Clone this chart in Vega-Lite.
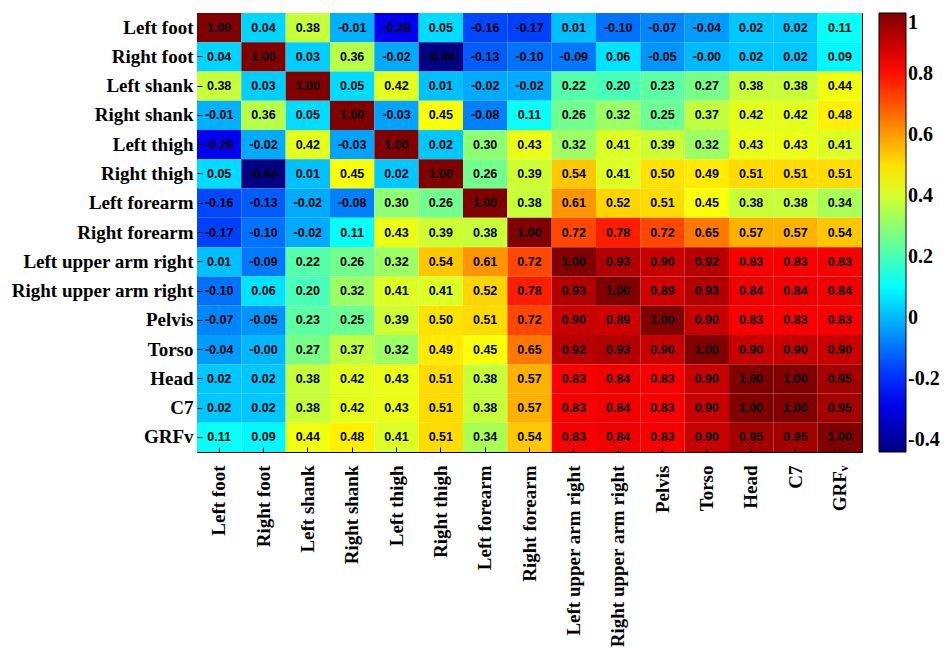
{
  "$schema": "https://vega.github.io/schema/vega-lite/v6.json",
  "width": 665,
  "height": 439,
  "autosize": {"type": "none"},
  "padding": {"left": 197, "top": 13, "right": 83, "bottom": 198},
  "background": "white",
  "config": {
    "view": {"stroke": "black", "strokeWidth": 1},
    "locale": {"number": {"decimal": ".", "thousands": ",", "grouping": [3], "currency": ["$", ""], "minus": "-"}},
    "axis": {"domain": false, "ticks": true, "tickColor": "black", "tickSize": -5, "tickWidth": 1, "labelColor": "black", "labelFont": "Liberation Serif", "labelFontWeight": "bold", "labelFontSize": 19, "labelLimit": 0, "title": null, "grid": false},
    "legend": {"labelFont": "Liberation Serif", "labelFontSize": 20, "labelFontWeight": "bold", "labelColor": "black", "labelOffset": 4, "labelOverlap": false, "gradientLength": 439, "gradientThickness": 27, "gradientStrokeColor": "black", "gradientStrokeWidth": 1}
  },
  "data": {"values": [
    {"r":"Left foot","c":"Left foot","v":1.00},{"r":"Left foot","c":"Right foot","v":0.04},{"r":"Left foot","c":"Left shank","v":0.38},{"r":"Left foot","c":"Right shank","v":-0.01},{"r":"Left foot","c":"Left thigh","v":-0.28},{"r":"Left foot","c":"Right thigh","v":0.05},{"r":"Left foot","c":"Left forearm","v":-0.16},{"r":"Left foot","c":"Right forearm","v":-0.17},{"r":"Left foot","c":"Left upper arm right","v":0.01},{"r":"Left foot","c":"Right upper arm right","v":-0.10},{"r":"Left foot","c":"Pelvis","v":-0.07},{"r":"Left foot","c":"Torso","v":-0.04},{"r":"Left foot","c":"Head","v":0.02},{"r":"Left foot","c":"C7","v":0.02},{"r":"Left foot","c":"GRFv","v":0.11},
    {"r":"Right foot","c":"Left foot","v":0.04},{"r":"Right foot","c":"Right foot","v":1.00},{"r":"Right foot","c":"Left shank","v":0.03},{"r":"Right foot","c":"Right shank","v":0.36},{"r":"Right foot","c":"Left thigh","v":-0.02},{"r":"Right foot","c":"Right thigh","v":-0.44},{"r":"Right foot","c":"Left forearm","v":-0.13},{"r":"Right foot","c":"Right forearm","v":-0.10},{"r":"Right foot","c":"Left upper arm right","v":-0.09},{"r":"Right foot","c":"Right upper arm right","v":0.06},{"r":"Right foot","c":"Pelvis","v":-0.05},{"r":"Right foot","c":"Torso","v":-0.00},{"r":"Right foot","c":"Head","v":0.02},{"r":"Right foot","c":"C7","v":0.02},{"r":"Right foot","c":"GRFv","v":0.09},
    {"r":"Left shank","c":"Left foot","v":0.38},{"r":"Left shank","c":"Right foot","v":0.03},{"r":"Left shank","c":"Left shank","v":1.00},{"r":"Left shank","c":"Right shank","v":0.05},{"r":"Left shank","c":"Left thigh","v":0.42},{"r":"Left shank","c":"Right thigh","v":0.01},{"r":"Left shank","c":"Left forearm","v":-0.02},{"r":"Left shank","c":"Right forearm","v":-0.02},{"r":"Left shank","c":"Left upper arm right","v":0.22},{"r":"Left shank","c":"Right upper arm right","v":0.20},{"r":"Left shank","c":"Pelvis","v":0.23},{"r":"Left shank","c":"Torso","v":0.27},{"r":"Left shank","c":"Head","v":0.38},{"r":"Left shank","c":"C7","v":0.38},{"r":"Left shank","c":"GRFv","v":0.44},
    {"r":"Right shank","c":"Left foot","v":-0.01},{"r":"Right shank","c":"Right foot","v":0.36},{"r":"Right shank","c":"Left shank","v":0.05},{"r":"Right shank","c":"Right shank","v":1.00},{"r":"Right shank","c":"Left thigh","v":-0.03},{"r":"Right shank","c":"Right thigh","v":0.45},{"r":"Right shank","c":"Left forearm","v":-0.08},{"r":"Right shank","c":"Right forearm","v":0.11},{"r":"Right shank","c":"Left upper arm right","v":0.26},{"r":"Right shank","c":"Right upper arm right","v":0.32},{"r":"Right shank","c":"Pelvis","v":0.25},{"r":"Right shank","c":"Torso","v":0.37},{"r":"Right shank","c":"Head","v":0.42},{"r":"Right shank","c":"C7","v":0.42},{"r":"Right shank","c":"GRFv","v":0.48},
    {"r":"Left thigh","c":"Left foot","v":-0.28},{"r":"Left thigh","c":"Right foot","v":-0.02},{"r":"Left thigh","c":"Left shank","v":0.42},{"r":"Left thigh","c":"Right shank","v":-0.03},{"r":"Left thigh","c":"Left thigh","v":1.00},{"r":"Left thigh","c":"Right thigh","v":0.02},{"r":"Left thigh","c":"Left forearm","v":0.30},{"r":"Left thigh","c":"Right forearm","v":0.43},{"r":"Left thigh","c":"Left upper arm right","v":0.32},{"r":"Left thigh","c":"Right upper arm right","v":0.41},{"r":"Left thigh","c":"Pelvis","v":0.39},{"r":"Left thigh","c":"Torso","v":0.32},{"r":"Left thigh","c":"Head","v":0.43},{"r":"Left thigh","c":"C7","v":0.43},{"r":"Left thigh","c":"GRFv","v":0.41},
    {"r":"Right thigh","c":"Left foot","v":0.05},{"r":"Right thigh","c":"Right foot","v":-0.44},{"r":"Right thigh","c":"Left shank","v":0.01},{"r":"Right thigh","c":"Right shank","v":0.45},{"r":"Right thigh","c":"Left thigh","v":0.02},{"r":"Right thigh","c":"Right thigh","v":1.00},{"r":"Right thigh","c":"Left forearm","v":0.26},{"r":"Right thigh","c":"Right forearm","v":0.39},{"r":"Right thigh","c":"Left upper arm right","v":0.54},{"r":"Right thigh","c":"Right upper arm right","v":0.41},{"r":"Right thigh","c":"Pelvis","v":0.50},{"r":"Right thigh","c":"Torso","v":0.49},{"r":"Right thigh","c":"Head","v":0.51},{"r":"Right thigh","c":"C7","v":0.51},{"r":"Right thigh","c":"GRFv","v":0.51},
    {"r":"Left forearm","c":"Left foot","v":-0.16},{"r":"Left forearm","c":"Right foot","v":-0.13},{"r":"Left forearm","c":"Left shank","v":-0.02},{"r":"Left forearm","c":"Right shank","v":-0.08},{"r":"Left forearm","c":"Left thigh","v":0.30},{"r":"Left forearm","c":"Right thigh","v":0.26},{"r":"Left forearm","c":"Left forearm","v":1.00},{"r":"Left forearm","c":"Right forearm","v":0.38},{"r":"Left forearm","c":"Left upper arm right","v":0.61},{"r":"Left forearm","c":"Right upper arm right","v":0.52},{"r":"Left forearm","c":"Pelvis","v":0.51},{"r":"Left forearm","c":"Torso","v":0.45},{"r":"Left forearm","c":"Head","v":0.38},{"r":"Left forearm","c":"C7","v":0.38},{"r":"Left forearm","c":"GRFv","v":0.34},
    {"r":"Right forearm","c":"Left foot","v":-0.17},{"r":"Right forearm","c":"Right foot","v":-0.10},{"r":"Right forearm","c":"Left shank","v":-0.02},{"r":"Right forearm","c":"Right shank","v":0.11},{"r":"Right forearm","c":"Left thigh","v":0.43},{"r":"Right forearm","c":"Right thigh","v":0.39},{"r":"Right forearm","c":"Left forearm","v":0.38},{"r":"Right forearm","c":"Right forearm","v":1.00},{"r":"Right forearm","c":"Left upper arm right","v":0.72},{"r":"Right forearm","c":"Right upper arm right","v":0.78},{"r":"Right forearm","c":"Pelvis","v":0.72},{"r":"Right forearm","c":"Torso","v":0.65},{"r":"Right forearm","c":"Head","v":0.57},{"r":"Right forearm","c":"C7","v":0.57},{"r":"Right forearm","c":"GRFv","v":0.54},
    {"r":"Left upper arm right","c":"Left foot","v":0.01},{"r":"Left upper arm right","c":"Right foot","v":-0.09},{"r":"Left upper arm right","c":"Left shank","v":0.22},{"r":"Left upper arm right","c":"Right shank","v":0.26},{"r":"Left upper arm right","c":"Left thigh","v":0.32},{"r":"Left upper arm right","c":"Right thigh","v":0.54},{"r":"Left upper arm right","c":"Left forearm","v":0.61},{"r":"Left upper arm right","c":"Right forearm","v":0.72},{"r":"Left upper arm right","c":"Left upper arm right","v":1.00},{"r":"Left upper arm right","c":"Right upper arm right","v":0.93},{"r":"Left upper arm right","c":"Pelvis","v":0.90},{"r":"Left upper arm right","c":"Torso","v":0.92},{"r":"Left upper arm right","c":"Head","v":0.83},{"r":"Left upper arm right","c":"C7","v":0.83},{"r":"Left upper arm right","c":"GRFv","v":0.83},
    {"r":"Right upper arm right","c":"Left foot","v":-0.10},{"r":"Right upper arm right","c":"Right foot","v":0.06},{"r":"Right upper arm right","c":"Left shank","v":0.20},{"r":"Right upper arm right","c":"Right shank","v":0.32},{"r":"Right upper arm right","c":"Left thigh","v":0.41},{"r":"Right upper arm right","c":"Right thigh","v":0.41},{"r":"Right upper arm right","c":"Left forearm","v":0.52},{"r":"Right upper arm right","c":"Right forearm","v":0.78},{"r":"Right upper arm right","c":"Left upper arm right","v":0.93},{"r":"Right upper arm right","c":"Right upper arm right","v":1.00},{"r":"Right upper arm right","c":"Pelvis","v":0.89},{"r":"Right upper arm right","c":"Torso","v":0.93},{"r":"Right upper arm right","c":"Head","v":0.84},{"r":"Right upper arm right","c":"C7","v":0.84},{"r":"Right upper arm right","c":"GRFv","v":0.84},
    {"r":"Pelvis","c":"Left foot","v":-0.07},{"r":"Pelvis","c":"Right foot","v":-0.05},{"r":"Pelvis","c":"Left shank","v":0.23},{"r":"Pelvis","c":"Right shank","v":0.25},{"r":"Pelvis","c":"Left thigh","v":0.39},{"r":"Pelvis","c":"Right thigh","v":0.50},{"r":"Pelvis","c":"Left forearm","v":0.51},{"r":"Pelvis","c":"Right forearm","v":0.72},{"r":"Pelvis","c":"Left upper arm right","v":0.90},{"r":"Pelvis","c":"Right upper arm right","v":0.89},{"r":"Pelvis","c":"Pelvis","v":1.00},{"r":"Pelvis","c":"Torso","v":0.90},{"r":"Pelvis","c":"Head","v":0.83},{"r":"Pelvis","c":"C7","v":0.83},{"r":"Pelvis","c":"GRFv","v":0.83},
    {"r":"Torso","c":"Left foot","v":-0.04},{"r":"Torso","c":"Right foot","v":-0.00},{"r":"Torso","c":"Left shank","v":0.27},{"r":"Torso","c":"Right shank","v":0.37},{"r":"Torso","c":"Left thigh","v":0.32},{"r":"Torso","c":"Right thigh","v":0.49},{"r":"Torso","c":"Left forearm","v":0.45},{"r":"Torso","c":"Right forearm","v":0.65},{"r":"Torso","c":"Left upper arm right","v":0.92},{"r":"Torso","c":"Right upper arm right","v":0.93},{"r":"Torso","c":"Pelvis","v":0.90},{"r":"Torso","c":"Torso","v":1.00},{"r":"Torso","c":"Head","v":0.90},{"r":"Torso","c":"C7","v":0.90},{"r":"Torso","c":"GRFv","v":0.90},
    {"r":"Head","c":"Left foot","v":0.02},{"r":"Head","c":"Right foot","v":0.02},{"r":"Head","c":"Left shank","v":0.38},{"r":"Head","c":"Right shank","v":0.42},{"r":"Head","c":"Left thigh","v":0.43},{"r":"Head","c":"Right thigh","v":0.51},{"r":"Head","c":"Left forearm","v":0.38},{"r":"Head","c":"Right forearm","v":0.57},{"r":"Head","c":"Left upper arm right","v":0.83},{"r":"Head","c":"Right upper arm right","v":0.84},{"r":"Head","c":"Pelvis","v":0.83},{"r":"Head","c":"Torso","v":0.90},{"r":"Head","c":"Head","v":1.00},{"r":"Head","c":"C7","v":1.00},{"r":"Head","c":"GRFv","v":0.95},
    {"r":"C7","c":"Left foot","v":0.02},{"r":"C7","c":"Right foot","v":0.02},{"r":"C7","c":"Left shank","v":0.38},{"r":"C7","c":"Right shank","v":0.42},{"r":"C7","c":"Left thigh","v":0.43},{"r":"C7","c":"Right thigh","v":0.51},{"r":"C7","c":"Left forearm","v":0.38},{"r":"C7","c":"Right forearm","v":0.57},{"r":"C7","c":"Left upper arm right","v":0.83},{"r":"C7","c":"Right upper arm right","v":0.84},{"r":"C7","c":"Pelvis","v":0.83},{"r":"C7","c":"Torso","v":0.90},{"r":"C7","c":"Head","v":1.00},{"r":"C7","c":"C7","v":1.00},{"r":"C7","c":"GRFv","v":0.95},
    {"r":"GRFv","c":"Left foot","v":0.11},{"r":"GRFv","c":"Right foot","v":0.09},{"r":"GRFv","c":"Left shank","v":0.44},{"r":"GRFv","c":"Right shank","v":0.48},{"r":"GRFv","c":"Left thigh","v":0.41},{"r":"GRFv","c":"Right thigh","v":0.51},{"r":"GRFv","c":"Left forearm","v":0.34},{"r":"GRFv","c":"Right forearm","v":0.54},{"r":"GRFv","c":"Left upper arm right","v":0.83},{"r":"GRFv","c":"Right upper arm right","v":0.84},{"r":"GRFv","c":"Pelvis","v":0.83},{"r":"GRFv","c":"Torso","v":0.90},{"r":"GRFv","c":"Head","v":0.95},{"r":"GRFv","c":"C7","v":0.95},{"r":"GRFv","c":"GRFv","v":1.00}
  ]},
  "layer": [
    {
      "mark": {"type": "rect"},
      "encoding": {
        "x": {"field": "c", "type": "nominal", "sort": ["Left foot","Right foot","Left shank","Right shank","Left thigh","Right thigh","Left forearm","Right forearm","Left upper arm right","Right upper arm right","Pelvis","Torso","Head","C7","GRFv"], "scale": {"paddingInner": 0, "paddingOuter": 0}, "axis": {"orient": "bottom", "labelAngle": -90, "labelPadding": 18, "labelExpr": "datum.value === 'GRFv' ? 'GRFᵥ' : datum.value"}},
        "y": {"field": "r", "type": "nominal", "sort": ["Left foot","Right foot","Left shank","Right shank","Left thigh","Right thigh","Left forearm","Right forearm","Left upper arm right","Right upper arm right","Pelvis","Torso","Head","C7","GRFv"], "scale": {"paddingInner": 0, "paddingOuter": 0}, "axis": {"orient": "left", "labelPadding": 9}},
        "color": {"field": "v", "type": "quantitative",
          "scale": {"type": "linear", "domain": [-0.44, -0.26, -0.08, 0.10, 0.28, 0.46, 0.64, 0.82, 1.0], "range": ["#000080", "#0000ff", "#0080ff", "#00ffff", "#80ff80", "#ffff00", "#ff8000", "#ff0000", "#800000"], "interpolate": "rgb"},
          "legend": {"title": null, "orient": "right", "offset": 16, "direction": "vertical", "gradientLength": 439, "gradientThickness": 27, "values": [-0.4, -0.2, 0, 0.2, 0.4, 0.6, 0.8, 1], "labelExpr": "'' + datum.value", "labelFont": "Liberation Serif", "labelFontSize": 20, "labelFontWeight": "bold"}
        }
      }
    },
    {
      "mark": {"type": "text", "font": "Liberation Sans", "fontWeight": "bold", "fontSize": 12.5, "color": "black"},
      "encoding": {
        "x": {"field": "c", "type": "nominal", "sort": ["Left foot","Right foot","Left shank","Right shank","Left thigh","Right thigh","Left forearm","Right forearm","Left upper arm right","Right upper arm right","Pelvis","Torso","Head","C7","GRFv"], "axis": {"orient": "top", "labels": false}},
        "y": {"field": "r", "type": "nominal", "sort": ["Left foot","Right foot","Left shank","Right shank","Left thigh","Right thigh","Left forearm","Right forearm","Left upper arm right","Right upper arm right","Pelvis","Torso","Head","C7","GRFv"], "axis": {"orient": "right", "labels": false}},
        "text": {"condition": {"test": "datum.v === 0 && 1 / datum.v < 0", "value": "-0.00"}, "field": "v", "type": "quantitative", "format": ".2f"}
      }
    }
  ],
  "resolve": {"axis": {"x": "independent", "y": "independent"}}
}
